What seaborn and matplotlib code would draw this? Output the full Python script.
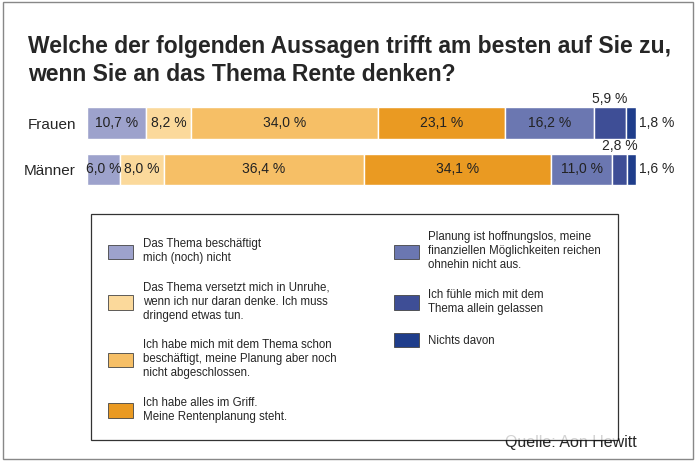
import matplotlib.pyplot as plt
import seaborn as sns
import pandas as pd

gruppen = ['Frauen', 'Männer']
kategorien = ['Das Thema beschäftigt\nmich (noch) nicht',
              'Das Thema versetzt mich in Unruhe,\nwenn ich nur daran denke. Ich muss\ndringend etwas tun.',
              'Ich habe mich mit dem Thema schon\nbeschäftigt, meine Planung aber noch\nnicht abgeschlossen.',
              'Ich habe alles im Griff.\nMeine Rentenplanung steht.',
              'Planung ist hoffnungslos, meine\nfinanziellen Möglichkeiten reichen\nohnehin nicht aus.',
              'Ich fühle mich mit dem\nThema allein gelassen',
              'Nichts davon']
frauen = [10.7, 8.2, 34.0, 23.1, 16.2, 5.9, 1.8]
maenner = [6.0, 8.0, 36.4, 34.1, 11.0, 2.8, 1.6]
farben = ['#9da2cc', '#fbd99b', '#f6bf66', '#ea9a22', '#6b77b1', '#3e4e96', '#1f3d8b']

sns.set_style('white')
plt.rcParams['font.family'] = ['Liberation Sans', 'DejaVu Sans']

fig = plt.figure(figsize=(6.96, 4.61), dpi=100)
ax = fig.add_axes([0.125, 0.583, 0.789, 0.2])

df = pd.DataFrame({'Frauen': frauen, 'Männer': maenner}, index=kategorien)
links = [0, 0]
for i, kat in enumerate(kategorien):
    werte = df.loc[kat].values
    ax.barh([0, 1], werte, left=links, color=farben[i], height=0.68, label=kat)
    for j, w in enumerate(werte):
        txt = f'{w:.1f} %'.replace('.', ',')
        mitte = links[j] + w / 2
        if i == 5:
            ax.text(mitte, j - 0.36, txt, ha='center', va='bottom', fontsize=10)
        elif i == 6:
            ax.text(links[j] + w + 0.6, j, txt, ha='left', va='center', fontsize=10)
        else:
            ax.text(mitte, j, txt, ha='center', va='center', fontsize=10, color='#222222')
    links = [links[k] + werte[k] for k in range(2)]

ax.set_xlim(0, 99.9)
ax.set_ylim(1.5, -0.5)
ax.set_yticks([0, 1])
ax.set_yticklabels(gruppen, fontsize=11)
ax.tick_params(axis='y', length=0, pad=8)
ax.set_xticks([])
sns.despine(ax=ax, left=True, bottom=True)

handles, labels = ax.get_legend_handles_labels()
leg = fig.legend(handles, labels, ncol=2, loc='upper left', bbox_to_anchor=(0.122, 0.548),
                 fontsize=8.3, frameon=True, fancybox=False, edgecolor='black',
                 handlelength=2.2, handleheight=1.6, labelspacing=1.55, columnspacing=5.0,
                 borderpad=1.5, alignment='left')
for h in leg.legend_handles:
    h.set_edgecolor('#444444')
    h.set_linewidth(0.6)
leg.get_frame().set_linewidth(0.9)

fig.text(0.04, 0.885, 'Welche der folgenden Aussagen trifft am besten auf Sie zu,', fontsize=16.5,
         fontweight='bold')
fig.text(0.04, 0.824, 'wenn Sie an das Thema Rente denken?', fontsize=16.5, fontweight='bold')
fig.text(0.915, 0.03, 'Quelle: Aon Hewitt', fontsize=11.5, ha='right')
fig.patches.append(plt.Rectangle((0.004, 0.004), 0.992, 0.992, transform=fig.transFigure,
                                 fill=False, edgecolor='#888888', linewidth=1))
fig.savefig('out.png', dpi=100)
